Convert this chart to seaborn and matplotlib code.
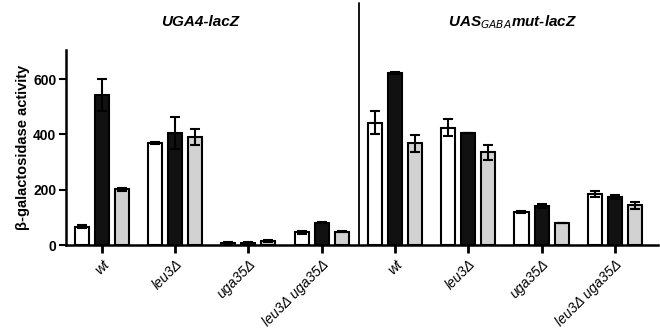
import matplotlib
matplotlib.use("Agg")
import matplotlib.pyplot as plt
import seaborn as sns
import pandas as pd
import numpy as np

# ---- data ----
strains = ["wt", "leu3Δ", "uga35Δ", "leu3Δ uga35Δ"]
reporters = ["UGA4-lacZ", "UASGABAmut-lacZ"]
conditions = ["c1", "c2", "c3"]

# values per condition, 8 groups (4 strains x 2 reporters)
vals_c1 = [66, 370, 8, 46, 442, 424, 119, 184]
vals_c2 = [542, 404, 8, 81, 622, 404, 141, 173]
vals_c3 = [202, 391, 15, 48, 367, 336, 78, 143]
err_c1 = [6, 4, 2, 5, 41, 30, 4, 10]
err_c2 = [57, 57, 2, 2, 3, 0, 9, 8]
err_c3 = [5, 28, 3, 2, 29, 27, 0, 12]

sns.set_style("ticks")
plt.rcParams["font.family"] = ["Liberation Sans", "DejaVu Sans"]
for k in ["text.color", "axes.labelcolor", "xtick.color", "ytick.color", "axes.edgecolor"]:
    plt.rcParams[k] = "black"

groups = [f"{r}|{s}" for r in reporters for s in strains]
rows = []
for ci, (v, e) in enumerate([(vals_c1, err_c1), (vals_c2, err_c2), (vals_c3, err_c3)]):
    for g, vv, ee in zip(groups, v, e):
        rows.append({"group": g, "condition": conditions[ci], "value": vv, "err": ee})
df = pd.DataFrame(rows)

fig = plt.figure(figsize=(6.6, 3.29), dpi=100)
ax = fig.add_axes([0.1, 0.2553, 0.897, 0.5927])

sns.barplot(data=df, x="group", y="value", hue="condition", order=groups,
            hue_order=conditions, palette=["white", "#111111", "#d2d2d2"],
            edgecolor="black", linewidth=1.5, width=0.82, gap=0.3,
            errorbar=None, legend=False, ax=ax)

errs = [err_c1, err_c2, err_c3]
bar_containers = list(ax.containers)
for ci, cont in enumerate(bar_containers):
    for bar, e in zip(cont, errs[ci]):
        xc = bar.get_x() + bar.get_width() / 2
        ax.errorbar(xc, bar.get_height(), yerr=e, fmt="none", ecolor="black",
                    elinewidth=1.5, capsize=3.5, capthick=1.5, zorder=5)

ax.set_xlim(-0.49, 7.59)
ax.set_ylim(0, 705)
ax.set_yticks([0, 200, 400, 600])
ax.set_yticklabels(["0", "200", "400", "600"], fontsize=10, fontweight="bold")
ax.set_xticks(range(len(groups)))
ax.set_xticklabels(strains * 2, rotation=45, ha="right", va="top",
                   rotation_mode="anchor", fontsize=10, style="italic")
ax.set_xlabel("")
ax.set_ylabel("β-galactosidase activity", fontsize=10.5, fontweight="bold", labelpad=2)

for sp in ["top", "right"]:
    ax.spines[sp].set_visible(False)
ax.spines["left"].set_linewidth(1.8)
ax.spines["bottom"].set_linewidth(1.8)
ax.tick_params(axis="y", length=5, width=1.5, pad=2)
ax.tick_params(axis="x", length=6, width=2, pad=3)

# divider between the two reporters
ax.axvline(3.51, ymin=0, ymax=1.24, color="black", lw=1.3, clip_on=False)

fig.text(0.303, 0.932, "UGA4-lacZ", fontsize=11, fontweight="bold",
         style="italic", ha="center", va="center")
fig.text(0.777, 0.932, r"UAS$_{\mathbf{\mathit{GABA}}}$mut-lacZ", fontsize=11,
         fontweight="bold", style="italic", ha="center", va="center")

fig.savefig("out.png", dpi=100)
